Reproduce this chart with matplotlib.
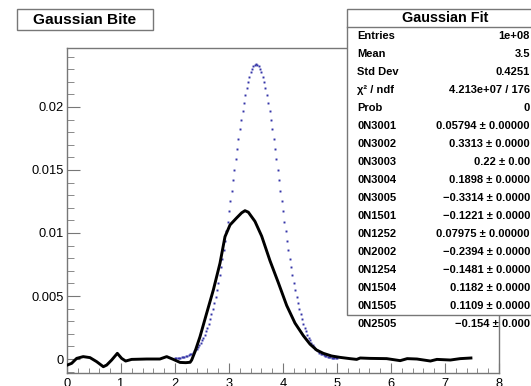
import numpy as np
import matplotlib
matplotlib.use("Agg")
import matplotlib.pyplot as plt
from matplotlib.patches import Rectangle
from matplotlib.lines import Line2D
from matplotlib.ticker import MultipleLocator, FuncFormatter

plt.rcParams['font.family'] = ['Liberation Sans', 'DejaVu Sans']

# Bite response (solid curve)
bite_x = [0.006, 0.087, 0.179, 0.30, 0.426, 0.549, 0.673, 0.735, 0.827, 0.932,
          1.012, 1.086, 1.197, 1.475, 1.72, 1.846, 1.969, 2.093, 2.20, 2.28,
          2.309, 2.370, 2.463, 2.586, 2.710, 2.833, 2.926, 3.019, 3.142, 3.234,
          3.296, 3.358, 3.481, 3.605, 3.759, 3.914, 4.068, 4.222, 4.377, 4.50,
          4.623, 4.747, 4.90, 5.056, 5.24, 5.364, 5.43, 5.61, 5.92, 6.17,
          6.30, 6.48, 6.73, 6.85, 7.10, 7.28, 7.48]
bite_y = [-0.00048, -0.00034, 0.00005, 0.00019, 0.00011, -0.00021, -0.00061, -0.00048, -0.00008, 0.00045,
          0.00005, -0.00016, -0.00003, 0.0, 0.0, 0.00019, -0.00003, -0.00027, -0.00029, -0.00026,
          -0.00008, 0.00058, 0.00177, 0.00363, 0.00548, 0.00760, 0.00971, 0.01064, 0.01120, 0.01160,
          0.01177, 0.01165, 0.01092, 0.00975, 0.00780, 0.00605, 0.00425, 0.00285, 0.00185, 0.00118,
          0.00071, 0.00045, 0.00024, 0.00013, 0.00003, -0.00003, 0.00008, 0.00005, 0.00003, -0.00013,
          0.00003, 0.0, -0.00016, -0.00003, -0.00008, 0.00003, 0.00008]

# Gaussian reference histogram (dotted), bins of 0.025 from 2.0 to 5.0
gauss_start, gauss_step = 2.0, 0.025
gauss_y = [0.00005, 0.00006, 0.00007, 0.00009, 0.00010, 0.00013, 0.00015, 0.00018, 0.00022, 0.00026,
           0.00031, 0.00037, 0.00043, 0.00051, 0.00060, 0.00070, 0.00082, 0.00095, 0.00111, 0.00128,
           0.00147, 0.00168, 0.00192, 0.00219, 0.00249, 0.00281, 0.00317, 0.00356, 0.00398, 0.00444,
           0.00493, 0.00546, 0.00603, 0.00663, 0.00727, 0.00794, 0.00864, 0.00937, 0.01013, 0.01091,
           0.01171, 0.01253, 0.01336, 0.01419, 0.01503, 0.01585, 0.01667, 0.01747, 0.01824, 0.01898,
           0.01968, 0.02034, 0.02095, 0.02150, 0.02199, 0.02241, 0.02276, 0.02304, 0.02324, 0.02336,
           0.02340,
           0.02336, 0.02324, 0.02304, 0.02276, 0.02241, 0.02199, 0.02150, 0.02095, 0.02034, 0.01968,
           0.01898, 0.01824, 0.01747, 0.01667, 0.01585, 0.01503, 0.01419, 0.01336, 0.01253, 0.01171,
           0.01091, 0.01013, 0.00937, 0.00864, 0.00794, 0.00727, 0.00663, 0.00603, 0.00546, 0.00493,
           0.00444, 0.00398, 0.00356, 0.00317, 0.00281, 0.00249, 0.00219, 0.00192, 0.00168, 0.00147,
           0.00128, 0.00111, 0.00095, 0.00082, 0.00070, 0.00060, 0.00051, 0.00043, 0.00037, 0.00031,
           0.00026, 0.00022, 0.00018, 0.00015, 0.00013, 0.00010, 0.00009, 0.00007, 0.00006, 0.00005]
gauss_x = gauss_start + gauss_step * np.arange(len(gauss_y))

# Statistics box contents
stat_labels = ["Entries", "Mean", "Std Dev", "\u03c7\u00b2 / ndf", "Prob",
               "0N3001", "0N3002", "0N3003", "0N3004", "0N3005", "0N1501",
               "0N1252", "0N2002", "0N1254", "0N1504", "0N1505", "0N2505"]
stat_values = ["1e+08", "3.5", "0.4251", "4.213e+07 / 176", "0",
               "0.05794 \u00b1 0.00000", "0.3313 \u00b1 0.0000", "0.22 \u00b1 0.00",
               "0.1898 \u00b1 0.0000", "\u22120.3314 \u00b1 0.0000", "\u22120.1221 \u00b1 0.0000",
               "0.07975 \u00b1 0.00000", "\u22120.2394 \u00b1 0.0000", "\u22120.1481 \u00b1 0.0000",
               "0.1182 \u00b1 0.0000", "0.1109 \u00b1 0.0000", "\u22120.154 \u00b1 0.000"]

W, H = 531, 386
fig = plt.figure(figsize=(W / 100, H / 100), dpi=100)


def fx(px):
    return px / W


def fy(py):
    return 1 - py / H


frame_col = "#777777"
ax = fig.add_axes([fx(67), fy(373), (499 - 67) / W, (373 - 48) / H])
ax.set_xlim(0, 8)
ax.set_ylim(-0.00111, 0.02468)

ax.plot(gauss_x, gauss_y, linestyle="none", marker="s", markersize=1.4,
        markeredgewidth=0, color="#3434a8", zorder=2)
ax.plot(bite_x, bite_y, color="black", lw=2.1, solid_joinstyle="round", zorder=3)

for sp in ax.spines.values():
    sp.set_color(frame_col)
    sp.set_linewidth(1.0)

ax.xaxis.set_major_locator(MultipleLocator(1))
ax.xaxis.set_minor_locator(MultipleLocator(0.2))
ax.yaxis.set_major_locator(MultipleLocator(0.005))
ax.yaxis.set_minor_locator(MultipleLocator(0.001))
ax.yaxis.set_major_formatter(FuncFormatter(lambda v, p: "0" if abs(v) < 1e-9 else "%g" % v))
ax.tick_params(axis="both", which="both", direction="in", color=frame_col,
               top=False, right=False, labelsize=9.3)
ax.tick_params(axis="x", which="major", length=7.2, pad=3.6)
ax.tick_params(axis="x", which="minor", length=3.6)
ax.tick_params(axis="y", which="major", length=9.4, pad=2.4)
ax.tick_params(axis="y", which="minor", length=4.7)

# Title box
fig.add_artist(Rectangle((fx(17), fy(30)), (153 - 17) / W, (30 - 9) / H,
                         transform=fig.transFigure, facecolor="white",
                         edgecolor=frame_col, lw=1.0))
fig.text(fx(85), fy(19.5), "Gaussian Bite", ha="center", va="center",
         fontsize=11.1, fontweight="bold")

# Statistics box
bx0, by0, bx1, by1 = 347, 9, 545, 315
fig.add_artist(Rectangle((fx(bx0), fy(by1)), (bx1 - bx0) / W, (by1 - by0) / H,
                         transform=fig.transFigure, facecolor="white",
                         edgecolor=frame_col, lw=1.0, zorder=5))
row_h = (by1 - by0) / 17.0
fig.add_artist(Line2D([fx(bx0), fx(bx1)], [fy(by0 + row_h), fy(by0 + row_h)],
                      transform=fig.transFigure, color=frame_col, lw=1.0, zorder=6))
fig.text(fx(445), fy(by0 + row_h / 2), "Gaussian Fit", ha="center", va="center",
         fontsize=10.4, fontweight="bold", zorder=7)
for i, (lab, val) in enumerate(zip(stat_labels, stat_values)):
    yc = fy(by0 + row_h * (i + 1.5))
    fig.text(fx(357), yc, lab, ha="left", va="center", fontsize=8,
             fontweight="bold", zorder=7)
    fig.text(fx(530), yc, val, ha="right", va="center", fontsize=8,
             fontweight="bold", zorder=7)

fig.savefig("out.png", dpi=100)
